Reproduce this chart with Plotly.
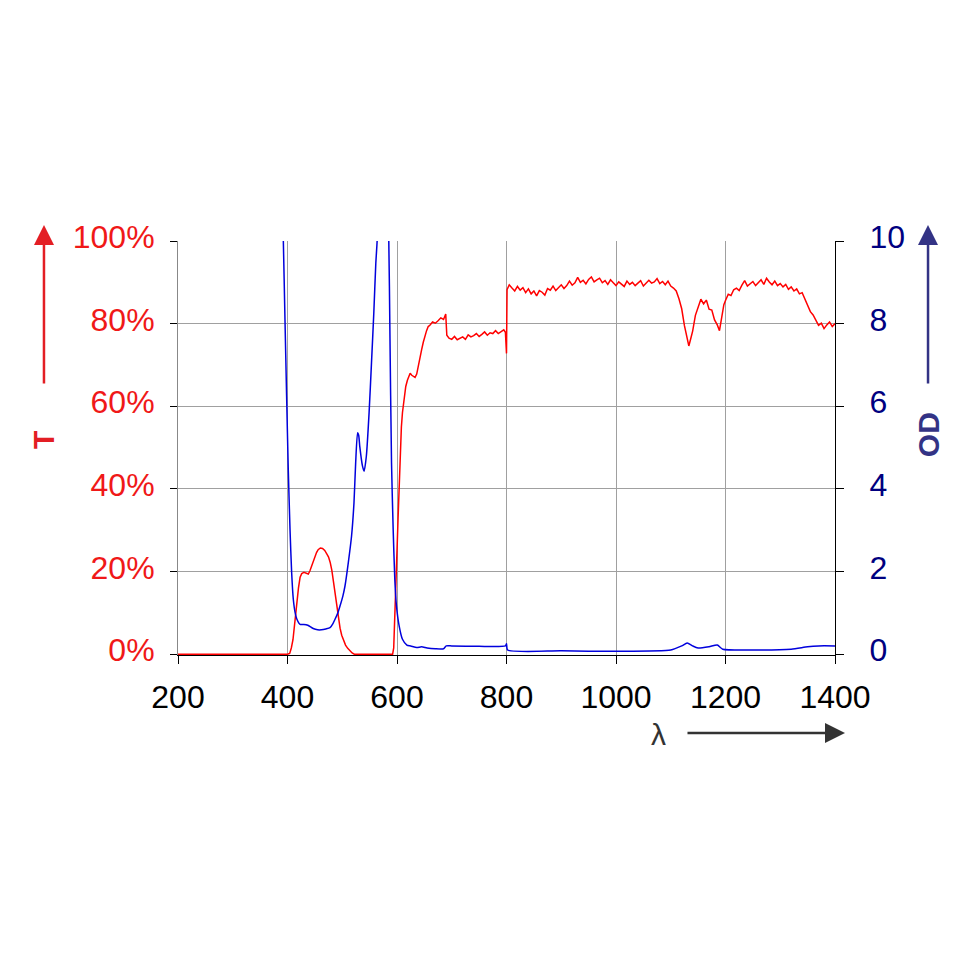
import plotly.graph_objects as go

# ---- Transmission T (%) vs wavelength (nm) ----
t_wavelength = [
    200, 400, 404, 407, 410, 413, 417, 420, 423, 426,
    430, 434, 438, 441, 444, 447, 450, 453, 456, 460,
    464, 468, 472, 475, 478, 481, 484, 487, 490, 493,
    496, 499, 502, 506, 510, 514, 518, 522, 592, 594,
    596, 598, 600, 602, 604, 606, 608, 610, 613, 616,
    619, 622, 624, 627, 630, 633, 636, 639, 642, 645,
    648, 651, 654, 657, 660, 665, 670, 675, 680, 685,
    688, 689, 691, 695, 700, 705, 710, 715, 720, 725,
    730, 735, 740, 745, 750, 755, 760, 765, 770, 775,
    780, 785, 790, 795, 798, 800, 801, 805, 810, 815,
    820, 825, 830, 835, 840, 845, 850, 855, 860, 865,
    870, 875, 880, 885, 890, 895, 900, 905, 910, 915,
    920, 925, 930, 935, 940, 945, 950, 955, 960, 965,
    970, 975, 980, 985, 990, 995, 1000, 1005, 1010, 1015,
    1020, 1025, 1030, 1035, 1040, 1045, 1050, 1055, 1060, 1065,
    1070, 1075, 1080, 1085, 1090, 1095, 1100, 1105, 1110, 1115,
    1120, 1125, 1130, 1133, 1136, 1140, 1145, 1150, 1155, 1160,
    1165, 1170, 1175, 1180, 1185, 1189, 1193, 1197, 1200, 1205,
    1210, 1215, 1220, 1225, 1230, 1235, 1240, 1245, 1250, 1255,
    1260, 1265, 1270, 1275, 1280, 1285, 1290, 1295, 1300, 1305,
    1310, 1315, 1320, 1325, 1330, 1335, 1340, 1345, 1350, 1355,
    1360, 1365, 1370, 1375, 1380, 1385, 1390, 1395, 1400,
]
t_percent = [
    0, 0, 0.2, 1.5, 3.5, 7.5, 12.5, 16, 18.6, 19.5,
    19.8, 19.6, 19.4, 20.2, 21.3, 22.6, 23.7, 24.6, 25.3, 25.7,
    25.6, 25.1, 24.2, 23.5, 22.2, 20.3, 17.5, 14.8, 11.5, 8.5,
    6.3, 4.6, 3.4, 2.2, 1.4, 0.8, 0.3, 0, 0, 1.5,
    8, 17, 25, 33, 41, 49, 55, 58.5, 62.4, 64.8,
    66.3, 67.6, 68, 67.5, 67.2, 67.0, 67.8, 69.5, 71.6, 73.7,
    75.5, 77, 78.3, 79.3, 79.6, 80.4, 80.1, 80.7, 81.4, 81.0,
    82.0, 82.3, 77.2, 76.5, 76.2, 76.9, 76.1, 76.5, 76.8, 76.2,
    77.3, 76.8, 77.1, 77.6, 76.9, 77.4, 78.0, 77.2, 77.8, 77.6,
    78.3, 77.6, 78.1, 78.5, 77.9, 72.8, 88.2, 89.4, 88.6, 87.9,
    89.0, 88.1, 88.7, 87.5, 88.4, 87.2, 87.9, 86.7, 88.0, 87.6,
    86.9, 88.5, 88.1, 89.1, 88.0, 88.8, 89.4, 88.5, 89.2, 90.3,
    89.3, 89.9, 91.2, 90.0, 90.5, 89.6, 90.7, 91.3, 90.1, 90.6,
    91.0, 89.9, 90.4, 89.5, 90.6, 89.9, 89.2, 90.1, 89.6, 89.0,
    90.3, 89.5, 90.0, 89.2, 89.8, 90.4, 89.1, 89.7, 90.5, 89.8,
    90.1, 90.9, 89.7, 90.2, 89.4, 90.3, 89.1, 88.6, 87.9, 86.0,
    83.6, 79.5, 76.3, 74.6, 76.1, 78.2, 82.0, 83.8, 85.9, 84.8,
    85.7, 83.5, 83.3, 80.9, 79.7, 78.3, 81.5, 84.6, 85.6, 87.1,
    86.8, 88.2, 88.6, 88.0, 89.3, 90.4, 89.1, 89.6, 90.2, 89.2,
    90.0, 90.6, 89.5, 91.0, 90.1, 89.4, 90.3, 89.2, 89.7, 88.9,
    89.5, 88.3, 88.9, 87.9, 88.4, 87.2, 87.5, 86.0, 84.8, 82.9,
    82.1, 80.8, 79.6, 80.1, 78.8, 79.7, 80.4, 79.3, 80.0,
]

# ---- Optical density OD vs wavelength (nm) ----
od_wavelength = [
    385, 392.4, 395.4, 398.4, 401.4, 404.6, 407.6, 410.6, 414, 417,
    423, 430, 437, 447, 455, 462, 470, 477.6, 483, 487,
    492, 496, 501, 505, 511, 517, 521.4, 524.5, 528, 530,
    532, 537, 540, 544, 549, 553.4, 557.6, 561.3, 563.7, 568,
    580, 585, 587, 590, 593, 596, 599, 604, 610, 618,
    625, 636, 645, 655, 670, 685, 690, 700, 750, 798,
    800, 802, 900, 1000, 1100, 1120, 1130, 1140, 1150, 1170,
    1185, 1195, 1250, 1320, 1350, 1370, 1400,
]
od_value = [
    14, 10, 8.1, 6.24, 4.47, 3.02, 1.97, 1.33, 1.0, 0.85,
    0.72, 0.72, 0.7, 0.62, 0.59, 0.59, 0.61, 0.64, 0.74, 0.85,
    1.0, 1.17, 1.4, 1.65, 2.21, 2.86, 3.66, 4.63, 5.36, 5.3,
    5.03, 4.55, 4.43, 4.79, 5.84, 7.05, 8.25, 9.46, 10, 12,
    12, 10, 7.85, 4.63, 3.02, 1.81, 1.17, 0.68, 0.36, 0.22,
    0.2, 0.16, 0.18, 0.15, 0.13, 0.13, 0.2, 0.2, 0.19, 0.2,
    0.25, 0.1, 0.08, 0.07, 0.1, 0.2, 0.27, 0.2, 0.15, 0.18,
    0.22, 0.12, 0.1, 0.12, 0.18, 0.2, 0.2,
]

x_ticks = [200, 400, 600, 800, 1000, 1200, 1400]
t_ticks = [0, 20, 40, 60, 80, 100]
od_ticks = [0, 2, 4, 6, 8, 10]

FONT = "Liberation Sans, Arial, sans-serif"
RED = "#ff0000"
LABEL_RED = "#f01818"
NAVY = "#000080"
OD_TITLE = "#333385"
T_TITLE = "#e31e24"

fig = go.Figure()
fig.add_trace(go.Scatter(x=t_wavelength, y=t_percent, mode="lines",
                         line=dict(color=RED, width=1.5), yaxis="y", showlegend=False))
fig.add_trace(go.Scatter(x=od_wavelength, y=od_value, mode="lines",
                         line=dict(color="#0000dd", width=1.5, shape="spline", smoothing=0.6),
                         yaxis="y2", showlegend=False))

fig.update_layout(
    width=980, height=980,
    margin=dict(l=170, r=153, t=233, b=333),
    paper_bgcolor="white", plot_bgcolor="white",
    font=dict(family=FONT),
    xaxis=dict(
        range=[200, 1400], tickvals=x_ticks, ticktext=[str(v) for v in x_ticks],
        showgrid=True, gridcolor="#a0a0a0", gridwidth=1,
        showline=True, linecolor="black", linewidth=1,
        ticks="outside", ticklen=8, tickcolor="black",
        tickfont=dict(size=32, color="black", family=FONT),
        ticklabelstandoff=6, zeroline=False, layer="below traces",
    ),
    yaxis=dict(
        range=[-0.2, 100], tickvals=t_ticks, ticktext=[f"{v}%" for v in t_ticks],
        showgrid=True, gridcolor="#a0a0a0", gridwidth=1,
        showline=True, linecolor="#888888", linewidth=1,
        ticks="outside", ticklen=7, tickcolor="black",
        tickfont=dict(size=32, color=LABEL_RED, family=FONT),
        ticklabelstandoff=9, ticklabelshift=-4, zeroline=False, layer="below traces",
    ),
    yaxis2=dict(
        range=[-0.02, 10], tickvals=od_ticks, ticktext=[str(v) for v in od_ticks],
        overlaying="y", side="right", showgrid=False,
        showline=True, linecolor="black", linewidth=1,
        ticks="outside", ticklen=8, tickcolor="black",
        tickfont=dict(size=32, color=NAVY, family=FONT),
        ticklabelstandoff=19, ticklabelshift=-4, zeroline=False, layer="below traces",
    ),
)

annotations = [
    dict(text="<b>T</b>", x=-0.2055, y=0.519, xref="paper", yref="paper", showarrow=False,
         textangle=-90, font=dict(size=30, color=T_TITLE, family=FONT), xanchor="center", yanchor="middle"),
    dict(text="", x=-0.204, y=1.0386, xref="paper", yref="paper", showarrow=True, ax=0, ay=160,
         arrowhead=2, arrowsize=1.6, arrowwidth=2.5, arrowcolor=T_TITLE),
    dict(text="<b>OD</b>", x=1.1416, y=0.531, xref="paper", yref="paper", showarrow=False,
         textangle=-90, font=dict(size=30, color=OD_TITLE, family=FONT), xanchor="center", yanchor="middle"),
    dict(text="", x=1.1416, y=1.0386, xref="paper", yref="paper", showarrow=True, ax=0, ay=160,
         arrowhead=2, arrowsize=1.6, arrowwidth=2.5, arrowcolor=OD_TITLE),
    dict(text="λ", x=0.7306, y=-0.193, xref="paper", yref="paper", showarrow=False,
         font=dict(size=30, color="#333333", family=FONT), xanchor="center", yanchor="middle"),
    dict(text="", x=1.0152, y=-0.1884, xref="paper", yref="paper", showarrow=True, ax=-159, ay=0,
         arrowhead=2, arrowsize=1.6, arrowwidth=2.5, arrowcolor="#333333"),
]
fig.update_layout(annotations=annotations)

fig.write_html("out.html")
